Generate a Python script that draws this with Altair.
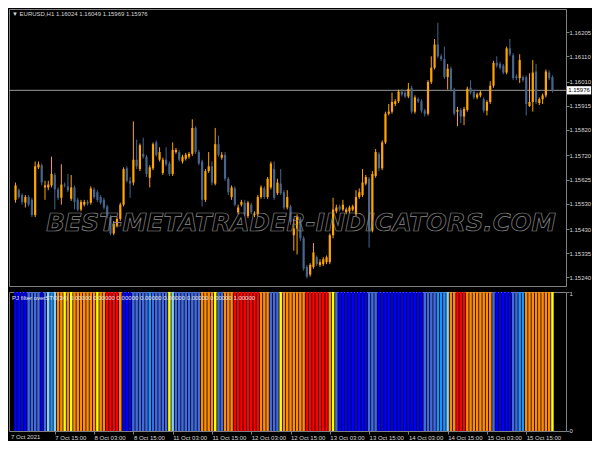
import altair as alt
import pandas as pd

# ---------------- data (EURUSD H1 candles) ----------------
opens = [
    1.15545, 1.15583, 1.15564, 1.15534, 1.15556, 1.15545, 1.15485, 1.15673, 1.15681, 1.15594,
    1.15594, 1.15602, 1.15643, 1.15586, 1.15553, 1.15605, 1.15598, 1.15549, 1.15594, 1.15545,
    1.15507, 1.15526, 1.15537, 1.15534, 1.15586, 1.15575, 1.15556, 1.15545, 1.15519, 1.15477,
    1.15413, 1.15443, 1.15470, 1.15526, 1.15669, 1.15620, 1.15613, 1.15703, 1.15666, 1.15726,
    1.15715, 1.15632, 1.15669, 1.15771, 1.15703, 1.15651, 1.15703, 1.15688, 1.15647, 1.15733,
    1.15733, 1.15696, 1.15707, 1.15715, 1.15726, 1.15828, 1.15733, 1.15696, 1.15545, 1.15658,
    1.15677, 1.15609, 1.15764, 1.15711, 1.15722, 1.15628, 1.15556, 1.15590, 1.15496, 1.15526,
    1.15534, 1.15481, 1.15526, 1.15485, 1.15488, 1.15556, 1.15590, 1.15556, 1.15594, 1.15666,
    1.15571, 1.15609, 1.15575, 1.15515, 1.15519, 1.15406, 1.15432, 1.15470, 1.15394, 1.15281,
    1.15251, 1.15281, 1.15319, 1.15289, 1.15292, 1.15300, 1.15300, 1.15406, 1.15500, 1.15519,
    1.15507, 1.15496, 1.15500, 1.15507, 1.15488, 1.15556, 1.15564, 1.15609, 1.15628, 1.15424,
    1.15639, 1.15726, 1.15669, 1.15771, 1.15884, 1.15892, 1.15922, 1.15933, 1.15971, 1.15967,
    1.15952, 1.15986, 1.15892, 1.15941, 1.15933, 1.15896, 1.15884, 1.16009, 1.16065, 1.16156,
    1.16110, 1.16099, 1.16028, 1.16061, 1.15979, 1.15892, 1.15899, 1.15873, 1.15899, 1.15986,
    1.15971, 1.15948, 1.15956, 1.15941, 1.15896, 1.15930, 1.15994, 1.16084, 1.16080, 1.16073,
    1.16046, 1.16141, 1.16114, 1.16031, 1.16024, 1.16028, 1.16028, 1.15914, 1.15930, 1.16050,
    1.15926, 1.15941, 1.15956, 1.16046, 1.16028,
]
highs = [
    1.15613, 1.15590, 1.15571, 1.15564, 1.15564, 1.15553, 1.15696, 1.15696, 1.15688, 1.15620,
    1.15620, 1.15715, 1.15651, 1.15594, 1.15685, 1.15613, 1.15647, 1.15643, 1.15602, 1.15553,
    1.15545, 1.15545, 1.15545, 1.15598, 1.15594, 1.15583, 1.15564, 1.15553, 1.15526, 1.15485,
    1.15462, 1.15477, 1.15534, 1.15673, 1.15677, 1.15635, 1.15854, 1.15782, 1.15767, 1.15790,
    1.15722, 1.15681, 1.15771, 1.15779, 1.15752, 1.15711, 1.15752, 1.15696, 1.15771, 1.15749,
    1.15741, 1.15722, 1.15730, 1.15733, 1.15862, 1.15835, 1.15741, 1.15703, 1.15666, 1.15733,
    1.15696, 1.15828, 1.15798, 1.15733, 1.15733, 1.15635, 1.15602, 1.15598, 1.15526, 1.15545,
    1.15545, 1.15541, 1.15534, 1.15500, 1.15564, 1.15602, 1.15598, 1.15635, 1.15696, 1.15696,
    1.15628, 1.15666, 1.15583, 1.15583, 1.15526, 1.15470, 1.15488, 1.15477, 1.15402, 1.15289,
    1.15296, 1.15375, 1.15326, 1.15311, 1.15319, 1.15326, 1.15413, 1.15553, 1.15526, 1.15526,
    1.15545, 1.15515, 1.15522, 1.15526, 1.15583, 1.15590, 1.15666, 1.15643, 1.15635, 1.15658,
    1.15745, 1.15733, 1.15779, 1.15892, 1.15922, 1.15967, 1.15941, 1.15979, 1.15982, 1.15979,
    1.16005, 1.15994, 1.15956, 1.15948, 1.15941, 1.15903, 1.16016, 1.16110, 1.16178, 1.16242,
    1.16118, 1.16148, 1.16080, 1.16069, 1.15986, 1.15911, 1.15907, 1.15911, 1.15990, 1.16016,
    1.15979, 1.15967, 1.15975, 1.15948, 1.15937, 1.16012, 1.16092, 1.16110, 1.16088, 1.16080,
    1.16148, 1.16178, 1.16122, 1.16039, 1.16118, 1.16035, 1.16035, 1.16043, 1.16095, 1.16080,
    1.15948, 1.15963, 1.16058, 1.16054, 1.16035,
]
lows = [
    1.15534, 1.15549, 1.15526, 1.15515, 1.15519, 1.15477, 1.15477, 1.15666, 1.15602, 1.15545,
    1.15583, 1.15594, 1.15507, 1.15545, 1.15526, 1.15594, 1.15575, 1.15541, 1.15507, 1.15500,
    1.15500, 1.15519, 1.15522, 1.15526, 1.15549, 1.15537, 1.15526, 1.15507, 1.15473, 1.15406,
    1.15406, 1.15436, 1.15462, 1.15519, 1.15613, 1.15553, 1.15602, 1.15666, 1.15658, 1.15707,
    1.15635, 1.15594, 1.15662, 1.15715, 1.15696, 1.15643, 1.15677, 1.15639, 1.15639, 1.15726,
    1.15696, 1.15688, 1.15700, 1.15707, 1.15718, 1.15726, 1.15681, 1.15519, 1.15537, 1.15651,
    1.15602, 1.15602, 1.15715, 1.15703, 1.15620, 1.15564, 1.15545, 1.15519, 1.15488, 1.15519,
    1.15481, 1.15473, 1.15488, 1.15477, 1.15481, 1.15549, 1.15549, 1.15549, 1.15586, 1.15545,
    1.15564, 1.15564, 1.15507, 1.15507, 1.15447, 1.15345, 1.15330, 1.15383, 1.15266, 1.15236,
    1.15243, 1.15274, 1.15285, 1.15281, 1.15285, 1.15292, 1.15292, 1.15394, 1.15492, 1.15500,
    1.15500, 1.15488, 1.15492, 1.15500, 1.15481, 1.15549, 1.15556, 1.15602, 1.15357, 1.15417,
    1.15632, 1.15658, 1.15662, 1.15764, 1.15877, 1.15884, 1.15914, 1.15926, 1.15952, 1.15945,
    1.15945, 1.15884, 1.15884, 1.15926, 1.15888, 1.15873, 1.15877, 1.16001, 1.16058, 1.16103,
    1.16092, 1.16020, 1.15979, 1.15971, 1.15877, 1.15835, 1.15847, 1.15839, 1.15892, 1.15960,
    1.15941, 1.15941, 1.15948, 1.15888, 1.15877, 1.15922, 1.15986, 1.16065, 1.16058, 1.16039,
    1.16039, 1.16110, 1.16016, 1.16016, 1.16005, 1.16009, 1.15877, 1.15911, 1.15892, 1.15922,
    1.15918, 1.15922, 1.15948, 1.16016, 1.15967,
]
closes = [
    1.15602, 1.15556, 1.15537, 1.15556, 1.15526, 1.15485, 1.15677, 1.15685, 1.15613, 1.15602,
    1.15605, 1.15647, 1.15586, 1.15553, 1.15605, 1.15602, 1.15583, 1.15594, 1.15537, 1.15507,
    1.15537, 1.15537, 1.15530, 1.15590, 1.15556, 1.15545, 1.15534, 1.15515, 1.15481, 1.15413,
    1.15451, 1.15470, 1.15526, 1.15666, 1.15620, 1.15609, 1.15703, 1.15677, 1.15760, 1.15715,
    1.15647, 1.15673, 1.15764, 1.15722, 1.15733, 1.15703, 1.15685, 1.15647, 1.15741, 1.15741,
    1.15703, 1.15715, 1.15722, 1.15726, 1.15828, 1.15733, 1.15688, 1.15545, 1.15658, 1.15677,
    1.15613, 1.15764, 1.15722, 1.15722, 1.15628, 1.15575, 1.15594, 1.15526, 1.15515, 1.15537,
    1.15488, 1.15534, 1.15496, 1.15488, 1.15556, 1.15594, 1.15556, 1.15628, 1.15688, 1.15553,
    1.15613, 1.15571, 1.15515, 1.15556, 1.15458, 1.15432, 1.15477, 1.15394, 1.15274, 1.15243,
    1.15289, 1.15338, 1.15292, 1.15300, 1.15311, 1.15319, 1.15406, 1.15507, 1.15515, 1.15507,
    1.15526, 1.15507, 1.15515, 1.15519, 1.15556, 1.15575, 1.15613, 1.15635, 1.15424, 1.15647,
    1.15733, 1.15669, 1.15771, 1.15884, 1.15892, 1.15930, 1.15933, 1.15971, 1.15960, 1.15952,
    1.15982, 1.15892, 1.15948, 1.15933, 1.15896, 1.15884, 1.16009, 1.16065, 1.16156, 1.16110,
    1.16099, 1.16028, 1.16061, 1.15979, 1.15884, 1.15899, 1.15873, 1.15903, 1.15982, 1.15967,
    1.15948, 1.15960, 1.15967, 1.15896, 1.15930, 1.15994, 1.16084, 1.16073, 1.16065, 1.16046,
    1.16141, 1.16118, 1.16024, 1.16024, 1.16095, 1.16016, 1.15922, 1.15930, 1.16046, 1.15930,
    1.15941, 1.15956, 1.16050, 1.16024, 1.15976,
]

# indicator colour per bar: B blue, S royal blue, D dodger blue, L light blue,
# Y yellow, O orange, X red
ind_segments = [
    "BBBB", "SSSS", "B", "S", "L", "D", "L", "OO", "Y", "O", "Y", "OOOOOOO", "Y", "OO",
    "XXXX", "O", "BBB", "SSSSS", "D", "SSSSS", "Y", "L", "SSSSSSSS", "OOOO", "Y", "SS",
    "OOO", "XXXXXXXX", "OOO", "SSS", "Y", "OOOOOOO", "XXXXXXX", "O", "Y", "S",
    "BBBBBBBBB", "SSS", "BBBBBBBBBBBBBB", "SSSS", "DDD", "L", "OO", "XXX", "OOOOOOOO",
    "S", "BBBBB", "SS", "DD", "OOOOOOOO", "Y",
]
ind_palette = {"B": "#0000ff", "S": "#4169e1", "D": "#1e90ff", "L": "#87cefa",
               "Y": "#ffff00", "O": "#ff8c00", "X": "#ff0000"}

price_ticks = [1.16205, 1.16110, 1.16010, 1.15915, 1.15820, 1.15720,
               1.15625, 1.15530, 1.15430, 1.15335, 1.15240]
time_tick_bars = [12, 24, 36, 48, 60, 72, 84, 96, 108, 120, 132, 144, 156]
time_tick_labels = ["7 Oct 15:00", "8 Oct 03:00", "8 Oct 15:00", "11 Oct 03:00",
                    "11 Oct 15:00", "12 Oct 03:00", "12 Oct 15:00", "13 Oct 03:00",
                    "13 Oct 15:00", "14 Oct 03:00", "14 Oct 15:00", "15 Oct 03:00",
                    "15 Oct 15:00"]
first_time_label = ["7 Oct 2021"]
last_price = [1.15976]
last_price_text = ["1.15976"]
header_text = ["\u25bc EURUSD,H1  1.16024 1.16049 1.15969 1.15976"]
ind_text = ["PJ filter overSTO(34)  0.00000 0.00000 0.00000 0.00000 0.00000 0.00000 0.00000 1.00000"]
watermark_text = ["BEST-METATRADER-INDICATORS.COM"]

ind_codes = "".join(ind_segments)
n = len(closes)
assert len(opens) == n and len(highs) == n and len(lows) == n and len(ind_codes) == n, (
    len(opens), len(highs), len(lows), n, len(ind_codes))

df = pd.DataFrame({"i": list(range(n)), "o": opens, "h": highs, "l": lows, "c": closes})
df["dir"] = ["up" if c > o else "down" for o, c in zip(opens, closes)]
ind = pd.DataFrame({"i": list(range(n)), "v": [1.0] * n,
                    "col": [ind_palette[k] for k in ind_codes]})

# ---------------- styling ----------------
FONT = "Liberation Sans"
FS = 6
GRAY = "#808080"
LABEL = "#d8d8d8"
UP = "#ffa500"
DOWN = "#46648c"
W = 557

xs = alt.Scale(domain=[-0.467, 166.62], nice=False, zero=False)
ys = alt.Scale(domain=[1.15206, 1.16296], nice=False, zero=False)

x_main_axis = alt.Axis(labels=False, ticks=False, grid=False, domain=False, title=None)
y_main_axis = alt.Axis(orient="right", values=price_ticks, format=".5f", grid=False,
                       domain=False, ticks=True, tickColor=GRAY,
                       tickSize=3, labelPadding=0, labelColor=LABEL, labelFontSize=FS,
                       labelFont=FONT, labelAlign="left", title=None)


def XM(f):
    return alt.X(f, type="quantitative", scale=xs, axis=x_main_axis)


def YM(f):
    return alt.Y(f, type="quantitative", scale=ys, axis=y_main_axis)


dir_color = alt.Color("dir:N", scale=alt.Scale(domain=["up", "down"], range=[UP, DOWN]),
                      legend=None)

base = alt.Chart(df)
wicks = base.mark_rule(strokeWidth=1, clip=True).encode(
    x=XM("i"), y=YM("l"), y2="h:Q", color=dir_color)
bodies = base.mark_bar(width=2.2, clip=True).encode(
    x=XM("i"), y=YM("o"), y2="c:Q", color=dir_color)

lp = pd.DataFrame({"p": last_price, "t": last_price_text})
price_line = alt.Chart(lp).mark_rule(color="#9a9a9a", strokeWidth=1).encode(y=YM("p"))
price_box = alt.Chart(lp).mark_point(
    shape="M-1,-0.34L1,-0.34L1,0.34L-1,0.34Z", size=590, filled=True,
    fill="white", opacity=1, strokeWidth=0).encode(x=alt.value(570), y=YM("p"))
price_txt = alt.Chart(lp).mark_text(
    color="black", fontSize=FS, font=FONT, align="center", baseline="middle").encode(
    x=alt.value(570), y=YM("p"), text="t:N")

header = alt.Chart(pd.DataFrame({"t": header_text})).mark_text(
    color=LABEL, fontSize=FS, font=FONT, align="left", baseline="top").encode(
    x=alt.value(3), y=alt.value(2), text="t:N")

watermark = alt.Chart(pd.DataFrame({"t": watermark_text})).mark_text(
    fontSize=24.5, font="DejaVu Sans", fontWeight="bold", fontStyle="italic",
    align="center", baseline="middle", fill="transparent", stroke="#8c8c8c",
    strokeWidth=0.7).encode(x=alt.value(292), y=alt.value(215), text="t:N")

main = alt.layer(price_line, wicks, bodies, watermark, header, price_box, price_txt
                 ).properties(width=W, height=277)

# ---------------- indicator panel ----------------
label_expr = ("[" + ",".join("'%s'" % s for s in time_tick_labels) +
              "][round(datum.value/12)-1]")
x_ind_axis = alt.Axis(values=time_tick_bars, labelExpr=label_expr, labelAlign="left",
                      labelBaseline="top", labelPadding=0, tickSize=3, tickColor=GRAY,
                      domain=False, labelColor=LABEL, labelFontSize=FS,
                      labelFont=FONT, grid=False, title=None, labelFlush=False,
                      labelOverlap=False, labelBound=False)
yis = alt.Scale(domain=[0, 1], nice=False, zero=True)
y_ind_axis = alt.Axis(orient="right", values=[0, 1], format="d", grid=False,
                      domain=False, tickColor=GRAY, tickSize=3,
                      labelPadding=0, labelColor=LABEL, labelFontSize=FS, labelFont=FONT,
                      labelAlign="left", labelFlush=True, labelFlushOffset=2, title=None)


def XI(f):
    return alt.X(f, type="quantitative", scale=xs, axis=x_ind_axis)


def YI(f):
    return alt.Y(f, type="quantitative", scale=yis, axis=y_ind_axis)


ibars = alt.Chart(ind).mark_bar(width=2.5, clip=True).encode(
    x=XI("i"), y=YI("v"), color=alt.Color("col:N", scale=None))
ind_label = alt.Chart(pd.DataFrame({"t": ind_text})).mark_text(
    color="#e8e8e8", fontSize=FS, font=FONT, align="left", baseline="top").encode(
    x=alt.value(3), y=alt.value(3), text="t:N")
first_lbl = alt.Chart(pd.DataFrame({"t": first_time_label})).mark_text(
    color=LABEL, fontSize=FS, font=FONT, align="left", baseline="top").encode(
    x=alt.value(2), y=alt.value(142), text="t:N")

indicator = alt.layer(ibars, ind_label, first_lbl).properties(width=W, height=139)

chart = alt.vconcat(main, indicator, spacing=2).properties(
    padding=0, background="black").configure_view(stroke=GRAY, strokeWidth=1)

chart.save("out.html", embed_options={"renderer": "svg", "actions": False})
